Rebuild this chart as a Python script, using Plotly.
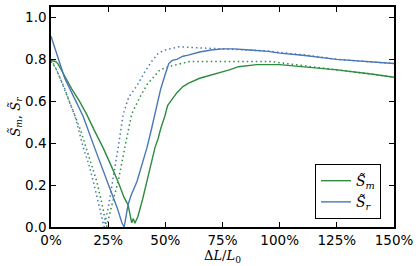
import plotly.graph_objects as go

# ---- data (x in % of L0) ----
sm_x = [0, 2, 3, 6, 9, 12.5, 15.5, 19, 22.7, 26, 29.3, 32, 33.7, 35.3, 36, 36.7, 38, 40, 42,
        45.5, 46.8, 48, 49.8, 51, 53, 55, 57.7, 60, 65, 70, 75, 78, 82, 86, 90, 100, 110, 125, 140, 150]
sm_y = [0.795, 0.79, 0.78, 0.72, 0.66, 0.60, 0.54, 0.46, 0.38, 0.30, 0.217, 0.14, 0.106, 0.02, 0.04, 0.018, 0.05, 0.13, 0.217,
        0.38, 0.42, 0.47, 0.53, 0.58, 0.61, 0.64, 0.67, 0.685, 0.71, 0.725, 0.74, 0.75, 0.765, 0.77, 0.775, 0.775, 0.765, 0.75, 0.73, 0.715]

sr_x = [0, 2, 4, 6, 10, 14, 19, 25, 29, 31, 32, 33.7, 35, 37.6, 40, 42, 44, 46, 48, 50, 51.5, 53, 55,
        57.7, 60, 65, 70, 75, 80, 87, 95, 100, 110, 125, 140, 150]
sr_y = [0.91, 0.84, 0.77, 0.71, 0.62, 0.53, 0.38, 0.21, 0.09, 0.02, 0.0, 0.106, 0.15, 0.217, 0.30, 0.38, 0.47, 0.57, 0.66, 0.73, 0.78, 0.795, 0.80,
        0.815, 0.82, 0.835, 0.845, 0.85, 0.85, 0.845, 0.838, 0.83, 0.82, 0.80, 0.79, 0.78]

smd_x = [0, 2, 4, 6, 8.3, 10.5, 13, 15.3, 17.5, 20, 22.5, 24.3, 26.5, 29.4, 32.3, 35.3, 38.9, 42, 47.6, 53, 60.7, 75, 96, 103, 115, 125, 140, 150]
smd_y = [0.79, 0.76, 0.71, 0.65, 0.59, 0.53, 0.46, 0.38, 0.30, 0.218, 0.10, 0.0, 0.10, 0.218, 0.38, 0.54, 0.62, 0.68, 0.75, 0.77, 0.79, 0.79, 0.79, 0.78, 0.765, 0.75, 0.73, 0.715]

srd_x = [0, 2, 4, 6, 8, 10.5, 14.1, 16.5, 18.5, 21, 23.2, 25, 27, 29.4, 31.6, 34, 37.7, 41, 44, 47, 50, 56, 65, 75, 82, 95, 103, 112, 125, 140, 150]
srd_y = [0.80, 0.76, 0.71, 0.66, 0.60, 0.53, 0.38, 0.30, 0.218, 0.10, 0.0, 0.09, 0.218, 0.38, 0.54, 0.62, 0.676, 0.74, 0.79, 0.83, 0.845, 0.86, 0.855, 0.85, 0.848, 0.84, 0.83, 0.82, 0.80, 0.79, 0.78]

x_ticks = [0, 25, 50, 75, 100, 125, 150]
x_tick_text = ["0%", "25%", "50%", "75%", "100%", "125%", "150%"]
y_ticks = [0.0, 0.2, 0.4, 0.6, 0.8, 1.0]
y_tick_text = ["0.0", "0.2", "0.4", "0.6", "0.8", "1.0"]

GREEN = "#2e8b3f"
BLUE = "#4a78b5"

fig = go.Figure()
fig.add_trace(go.Scatter(x=smd_x, y=smd_y, mode="lines", line=dict(color=GREEN, width=1.5, dash="1.5px,3px"), showlegend=False))
fig.add_trace(go.Scatter(x=srd_x, y=srd_y, mode="lines", line=dict(color=BLUE, width=1.5, dash="1.5px,3px"), showlegend=False))
fig.add_trace(go.Scatter(x=sm_x, y=sm_y, mode="lines", line=dict(color=GREEN, width=1.4),
                         name="<i>S̃</i><sub><i>m</i></sub>"))
fig.add_trace(go.Scatter(x=sr_x, y=sr_y, mode="lines", line=dict(color=BLUE, width=1.4),
                         name="<i>S̃</i><sub><i>r</i></sub>"))

axis_common = dict(showgrid=False, zeroline=False, showline=True, linecolor="black", linewidth=1.5,
                   mirror="ticks", ticks="inside", ticklen=5, tickwidth=1, tickcolor="black",
                   tickfont=dict(family="DejaVu Sans", size=13.5, color="black"))

fig.update_xaxes(range=[0, 150], tickvals=x_ticks, ticktext=x_tick_text,
                 title=dict(text="Δ<i>L</i>/<i>L</i><sub>0</sub>", font=dict(family="DejaVu Serif", size=13, color="black"), standoff=0),
                 **axis_common)
fig.update_yaxes(range=[0, 1.05], tickvals=y_ticks, ticktext=y_tick_text,
                 title=dict(text="<i>S̃</i><sub><i>m</i></sub>, <i>S̃</i><sub><i>r</i></sub>", font=dict(family="DejaVu Serif", size=13, color="black"), standoff=2),
                 **axis_common)

fig.update_layout(
    width=416, height=266,
    margin=dict(l=51, r=22, t=7, b=39, autoexpand=False),
    paper_bgcolor="white", plot_bgcolor="white",
    legend=dict(x=0.962, y=0.036, xanchor="right", yanchor="bottom",
                bordercolor="black", borderwidth=1, bgcolor="white",
                font=dict(family="DejaVu Serif", size=14, color="black"),
                tracegroupgap=0, itemwidth=30),
)

fig.write_html("out.html", config={"displayModeBar": False},
               post_script="document.body.style.margin='0';document.body.style.overflow='hidden';")
